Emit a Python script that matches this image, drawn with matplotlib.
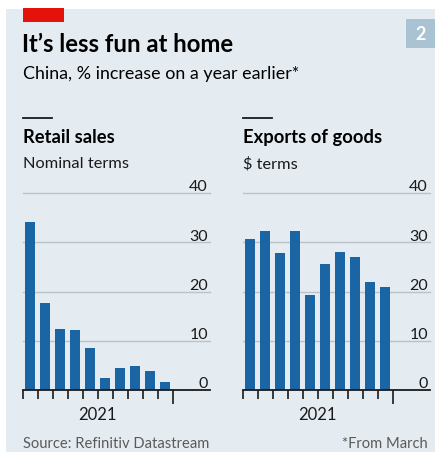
import matplotlib
matplotlib.use("Agg")
import matplotlib.pyplot as plt
from matplotlib import font_manager as fm
from matplotlib.patches import Rectangle
from matplotlib.lines import Line2D

# ---------------- data ----------------
months = ["Mar", "Apr", "May", "Jun", "Jul", "Aug", "Sep", "Oct", "Nov", "Dec"]
retail_sales = [34.2, 17.7, 12.4, 12.1, 8.5, 2.5, 4.4, 4.9, 3.9, 1.7]
exports = [30.6, 32.3, 27.9, 32.2, 19.3, 25.6, 28.1, 27.1, 22.0, 20.9]
y_ticks = [0, 10, 20, 30, 40]
year_label = "2021"

title = "It\u2019s less fun at home"
subtitle = "China, % increase on a year earlier*"
panel_titles = ["Retail sales", "Exports of goods"]
panel_subtitles = ["Nominal terms", "$ terms"]
source = "Source: Refinitiv Datastream"
footnote = "*From March"
chart_number = "2"

# ---------------- style ----------------
names = {f.name for f in fm.fontManager.ttflist}
FONT = "Liberation Sans Narrow" if "Liberation Sans Narrow" in names else "Lato"
plt.rcParams["font.family"] = [FONT, "DejaVu Sans"]

BG = "#e4ebf1"
BAR = "#1a65a3"
GRID = "#b9c3cb"
DARK = "#1a1a1a"

W, H = 441, 456
fig = plt.figure(figsize=(W / 100, H / 100), dpi=100)
fig.patch.set_facecolor("white")

def fx(px):
    return px / W

def fy(py):
    return 1 - py / H

# background panel
fig.add_artist(Rectangle((fx(6), fy(453)), fx(435) - fx(6), fy(10) - fy(453),
                         transform=fig.transFigure, facecolor=BG, edgecolor="none", zorder=0))
# red tag
fig.add_artist(Rectangle((fx(22.7), fy(23.3)), fx(64) - fx(22.7), fy(9) - fy(23.3),
                         transform=fig.transFigure, facecolor="#e3120b", edgecolor="none", zorder=1))
# chart number box
fig.add_artist(Rectangle((fx(406), fy(49)), fx(435) - fx(406), fy(20) - fy(49),
                         transform=fig.transFigure, facecolor="#a9c3d3", edgecolor="none", zorder=1))
fig.text(fx(420.5), fy(34.5), chart_number, color="white", fontsize=13, fontweight="bold",
         ha="center", va="center")

fig.text(fx(22), fy(52), title, fontsize=17.2, fontweight="bold", color="black", va="baseline")
fig.text(fx(22.7), fy(78.5), subtitle, fontsize=12.9, color="black", va="baseline")

fig.text(fx(22.7), fy(448.3), source, fontsize=10.6, color="#5a5a5a", va="baseline")
fig.text(fx(428), fy(448.3), footnote, fontsize=10.6, color="#5a5a5a", va="baseline", ha="right")

panels = [(22.5, 210, retail_sales), (242.5, 430, exports)]
y_top, y_bot = 194, 391

for i, (x0, x1, vals) in enumerate(panels):
    ax = fig.add_axes([fx(x0), fy(y_bot), fx(x1) - fx(x0), fy(y_top) - fy(y_bot)])
    ax.set_facecolor("none")
    xs = list(range(len(vals)))
    ax.bar(xs, vals, width=0.73, color=BAR, zorder=3)
    ax.set_xlim(-0.5, 12.0)
    ax.set_ylim(0, 40)
    for s in ax.spines.values():
        s.set_visible(False)
    ax.set_yticks([])
    for t in y_ticks:
        if t == 0:
            ax.axhline(0, color=DARK, lw=1.3, zorder=4, clip_on=False)
        else:
            ax.axhline(t, color=GRID, lw=1.0, zorder=1, clip_on=False)
        ax.annotate(str(t), xy=(1, t), xycoords=("axes fraction", "data"),
                    xytext=(-2, 2.5), textcoords="offset pixels",
                    ha="right", va="baseline", fontsize=11.5, color=DARK)
    # month ticks
    edges = [x - 0.5 for x in xs] + [xs[-1] + 0.5]
    ax.set_xticks(edges[-1:])
    ax.set_xticks(edges[:-1], minor=True)
    ax.tick_params(axis="x", which="minor", length=6.5, width=1.2, color=DARK, direction="out")
    ax.tick_params(axis="x", which="major", length=10, width=1.2, color=DARK, direction="out")
    ax.set_xticklabels([])
    ax.set_xticklabels([], minor=True)
    # year label
    mid = (edges[0] + edges[-1]) / 2
    ax.annotate(year_label, xy=(mid, 0), xycoords="data", xytext=(0, -29),
                textcoords="offset pixels", ha="center", va="baseline", fontsize=12, color=DARK)

    # panel header
    hx = x0 + 0.2
    fig.add_artist(Line2D([fx(hx), fx(hx + 29.5)], [fy(119), fy(119)], transform=fig.transFigure,
                          color=DARK, lw=1.3))
    fig.text(fx(hx), fy(143.3), panel_titles[i], fontsize=13.2, fontweight="bold", color="black",
             va="baseline")
    fig.text(fx(hx), fy(168), panel_subtitles[i], fontsize=11.8, color=DARK, va="baseline")

fig.savefig("out.png", dpi=100, facecolor="white")
